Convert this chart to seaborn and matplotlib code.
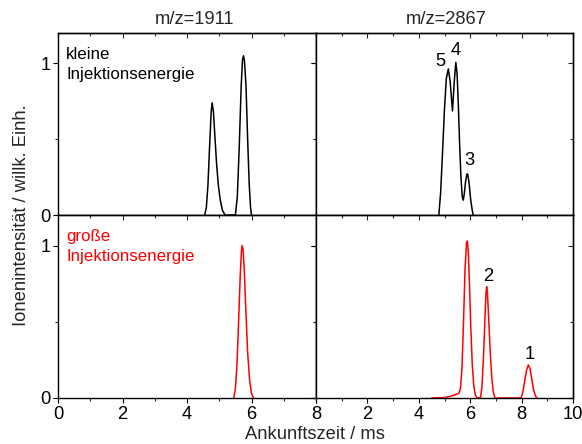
import pandas as pd
import matplotlib
matplotlib.use("Agg")
import matplotlib.pyplot as plt
import seaborn as sns
from matplotlib.ticker import MultipleLocator

# Arrival-time distributions (arrival time in ms, normalised ion intensity)
# m/z=1911, small injection energy
t_1911_low = [4.55, 4.60, 4.65, 4.70, 4.75, 4.78, 4.82, 4.87, 4.92, 4.97, 5.03, 5.10, 5.18,
              5.50, 5.56, 5.62, 5.68, 5.72, 5.75, 5.78, 5.83, 5.88, 5.93, 5.97, 6.00]
i_1911_low = [0.00, 0.05, 0.20, 0.45, 0.68, 0.74, 0.68, 0.50, 0.33, 0.20, 0.10, 0.03, 0.00,
              0.00, 0.12, 0.45, 0.85, 1.02, 1.05, 1.02, 0.85, 0.50, 0.20, 0.05, 0.00]

# m/z=1911, large injection energy
t_1911_high = [5.45, 5.50, 5.55, 5.60, 5.65, 5.69, 5.71, 5.74, 5.78, 5.83, 5.88, 5.94, 6.00, 6.06]
i_1911_high = [0.00, 0.06, 0.22, 0.50, 0.80, 0.97, 1.00, 0.97, 0.82, 0.55, 0.30, 0.12, 0.03, 0.00]

# m/z=2867, small injection energy (peaks 5, 4, 3)
t_2867_low = [4.78, 4.85, 4.92, 5.00, 5.07, 5.15, 5.22, 5.31, 5.38, 5.44, 5.49, 5.54, 5.59,
              5.64, 5.69, 5.73, 5.77, 5.82, 5.87, 5.90, 5.95, 6.02, 6.08, 6.12]
i_2867_low = [0.00, 0.15, 0.40, 0.70, 0.90, 0.963, 0.88, 0.686, 0.88, 1.006, 0.93, 0.72, 0.46,
              0.25, 0.12, 0.098, 0.14, 0.22, 0.27, 0.27, 0.22, 0.10, 0.03, 0.00]

# m/z=2867, large injection energy (peaks 2, 1)
t_2867_high = [4.50, 5.00, 5.20, 5.40, 5.55, 5.62, 5.68, 5.74, 5.80, 5.86, 5.89, 5.93, 5.98,
               6.02, 6.08, 6.14, 6.20, 6.27,
               6.40, 6.46, 6.52, 6.57, 6.61, 6.64, 6.67, 6.72, 6.78, 6.84, 6.90, 6.96,
               7.98, 8.05, 8.12, 8.19, 8.26, 8.33, 8.40, 8.47, 8.55, 8.60]
i_2867_high = [0.00, 0.003, 0.01, 0.02, 0.03, 0.06, 0.20, 0.50, 0.85, 1.02, 1.03, 0.95, 0.70,
               0.48, 0.22, 0.08, 0.02, 0.00,
               0.00, 0.08, 0.28, 0.50, 0.68, 0.73, 0.69, 0.52, 0.30, 0.13, 0.04, 0.00,
               0.00, 0.04, 0.11, 0.18, 0.217, 0.19, 0.12, 0.05, 0.01, 0.00]

# Isomer peak numbers and where they are written (ms, intensity)
low_peak_labels = ["5", "4", "3"]
low_label_t = [4.84, 5.45, 5.96]
low_label_i = [1.013, 1.083, 0.36]
high_peak_labels = ["2", "1"]
high_label_t = [6.70, 8.33]
high_label_i = [0.80, 0.283]

titles = ["m/z=1911", "m/z=2867"]
energy_low = "kleine\nInjektionsenergie"
energy_high = "große\nInjektionsenergie"

sns.set_style("ticks")
plt.rcParams["font.family"] = ["Liberation Sans", "DejaVu Sans"]
plt.rcParams["axes.linewidth"] = 1.0

FS = 13.2
FS_NOTE = 12.2
fig = plt.figure(figsize=(5.82, 4.44), dpi=100)

x0, xm, x1 = 58 / 582, 316 / 582, 573 / 582
y_top, y_mid, y_bot = 1 - 33 / 444, 1 - 215 / 444, 1 - 398 / 444

ax_tl = fig.add_axes([x0, y_mid, xm - x0, y_top - y_mid])
ax_tr = fig.add_axes([xm, y_mid, x1 - xm, y_top - y_mid])
ax_bl = fig.add_axes([x0, y_bot, xm - x0, y_mid - y_bot])
ax_br = fig.add_axes([xm, y_bot, x1 - xm, y_mid - y_bot])

curves = [
    (ax_tl, t_1911_low, i_1911_low, "black"),
    (ax_tr, t_2867_low, i_2867_low, "black"),
    (ax_bl, t_1911_high, i_1911_high, "red"),
    (ax_br, t_2867_high, i_2867_high, "red"),
]
for ax, t, i, c in curves:
    df = pd.DataFrame({"t": t, "i": i})
    sns.lineplot(data=df, x="t", y="i", ax=ax, color=c, lw=1.1, estimator=None, sort=False)
    ax.set_xlabel("")
    ax.set_ylabel("")

for ax in (ax_tl, ax_bl):
    ax.set_xlim(0, 8)
for ax in (ax_tr, ax_br):
    ax.set_xlim(0, 10)

for ax in (ax_tl, ax_tr, ax_bl, ax_br):
    ax.set_ylim(0, 1.2)
    ax.set_yticks([0, 1])
    ax.yaxis.set_minor_locator(MultipleLocator(0.5))
    ax.xaxis.set_major_locator(MultipleLocator(2))
    ax.xaxis.set_minor_locator(MultipleLocator(1))
    ax.tick_params(which="major", direction="out", length=3.5, width=0.8,
                   labelsize=FS, pad=2, colors="black")
    ax.tick_params(which="minor", direction="out", length=2.2, width=0.8)
    for s in ax.spines.values():
        s.set_color("black")
        s.set_linewidth(1.0)
    # inward ticks on the top and right frame edges
    top = ax.secondary_xaxis("top")
    top.xaxis.set_major_locator(MultipleLocator(2))
    top.xaxis.set_minor_locator(MultipleLocator(1))
    top.tick_params(which="major", direction="in", length=3.5, width=0.8, labeltop=False)
    top.tick_params(which="minor", direction="in", length=2.2, width=0.8)
    top.spines["top"].set_linewidth(1.0)
    right = ax.secondary_yaxis("right")
    right.set_yticks([0, 1])
    right.yaxis.set_minor_locator(MultipleLocator(0.5))
    right.tick_params(which="major", direction="in", length=3.5, width=0.8, labelright=False)
    right.tick_params(which="minor", direction="in", length=2.2, width=0.8)
    right.spines["right"].set_linewidth(1.0)

for ax in (ax_tl, ax_tr):
    ax.tick_params(labelbottom=False)
for ax in (ax_tr, ax_br):
    ax.tick_params(labelleft=False)
ax_br.set_xticks([0, 2, 4, 6, 8, 10])
ax_br.set_xticklabels(["", "2", "4", "6", "8", "10"])

for lab, t, i in zip(low_peak_labels, low_label_t, low_label_i):
    ax_tr.text(t, i, lab, ha="center", va="center", fontsize=FS, color="black")
for lab, t, i in zip(high_peak_labels, high_label_t, high_label_i):
    ax_br.text(t, i, lab, ha="center", va="center", fontsize=FS, color="black")

ax_tl.text(0.25, 1.11, energy_low, ha="left", va="top", fontsize=FS_NOTE, color="black",
           linespacing=1.42)
ax_bl.text(0.25, 1.11, energy_high, ha="left", va="top", fontsize=FS_NOTE, color="red",
           linespacing=1.42)

fig.text(195 / 582, 1 - 20 / 444, titles[0], ha="center", va="center", fontsize=FS)
fig.text(446 / 582, 1 - 20 / 444, titles[1], ha="center", va="center", fontsize=FS)
fig.text(315 / 582, 1 - 434 / 444, "Ankunftszeit / ms", ha="center", va="center", fontsize=FS)
fig.text(22 / 582, 1 - 215 / 444, "Ionenintensität / willk. Einh.", ha="center",
         va="center", rotation=90, fontsize=FS)

fig.savefig("out.png", dpi=100)
